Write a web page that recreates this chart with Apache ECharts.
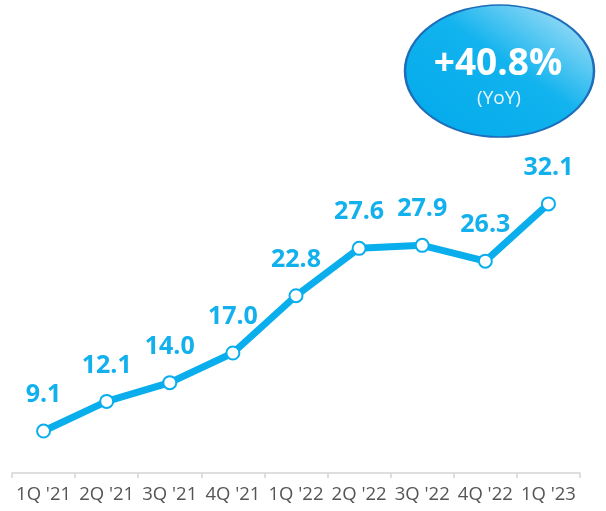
<!DOCTYPE html>
<html lang="en">
<head>
    <meta charset="UTF-8">
    <title>Quarterly</title>
    <script src="https://cdn.jsdelivr.net/npm/echarts@6/dist/echarts.min.js"></script>
    <style>
        html, body { margin: 0; padding: 0; background: #fff; }
    </style>
</head>
<body>
<div id="main" style="width: 606px;height:511px;"></div>
<script>
    var quarters = ["1Q '21", "2Q '21", "3Q '21", "4Q '21", "1Q '22", "2Q '22", "3Q '22", "4Q '22", "1Q '23"];
    var values = [9.1, 12.1, 14.0, 17.0, 22.8, 27.6, 27.9, 26.3, 32.1];
    var badgeMain = '+40.8%';
    var badgeSub = '(YoY)';

    var myChart = echarts.init(document.getElementById('main'));

    var option = {
        backgroundColor: '#ffffff',
        animation: false,
        grid: {
            left: 12,
            right: 26,
            top: 75,
            bottom: 38
        },
        xAxis: {
            type: 'category',
            data: quarters,
            boundaryGap: true,
            axisLine: { lineStyle: { color: '#d3d3d3', width: 1.5 } },
            axisTick: { show: true, interval: 0, length: 5, lineStyle: { color: '#d3d3d3', width: 1.5 } },
            axisLabel: {
                interval: 0,
                hideOverlap: false,
                color: '#555555',
                fontSize: 18.5,
                margin: 12,
                fontFamily: 'Open Sans'
            }
        },
        yAxis: {
            type: 'value',
            min: 4.85,
            max: 45.15,
            show: false,
            splitLine: { show: false }
        },
        graphic: [
            {
                type: 'circle',
                x: 499.5,
                y: 71,
                scaleY: 66 / 94.5,
                shape: { cx: 0, cy: 0, r: 94.5 },
                style: {
                    fill: {
                        type: 'linear',
                        x: 0, y: 1, x2: 1, y2: 0,
                        colorStops: [
                            { offset: 0, color: '#00a9ea' },
                            { offset: 0.55, color: '#12b3ee' },
                            { offset: 1, color: '#c0e7f8' }
                        ]
                    },
                    stroke: '#1d6db9',
                    lineWidth: 2.5
                }
            },
            {
                type: 'text',
                x: 498,
                y: 64,
                style: {
                    text: badgeMain,
                    fill: '#ffffff',
                    font: 'bold 37px "Open Sans"',
                    align: 'center',
                    verticalAlign: 'middle'
                }
            },
            {
                type: 'text',
                x: 499,
                y: 99,
                style: {
                    text: badgeSub,
                    fill: '#e8f6fd',
                    font: '19px "Open Sans"',
                    align: 'center',
                    verticalAlign: 'middle'
                }
            }
        ],
        series: [
            {
                type: 'line',
                data: values,
                symbol: 'circle',
                symbolSize: 13,
                lineStyle: { color: '#0aaeec', width: 7 },
                itemStyle: {
                    color: '#ffffff',
                    borderColor: '#0aaeec',
                    borderWidth: 2
                },
                label: {
                    show: true,
                    position: 'top',
                    distance: 16,
                    color: '#12b0ec',
                    fontSize: 25,
                    fontWeight: 'bold',
                    fontFamily: 'Open Sans',
                    formatter: function (p) {
                        return p.value.toFixed(1);
                    }
                }
            }
        ]
    };
    myChart.setOption(option);
</script>
</body>
</html>
